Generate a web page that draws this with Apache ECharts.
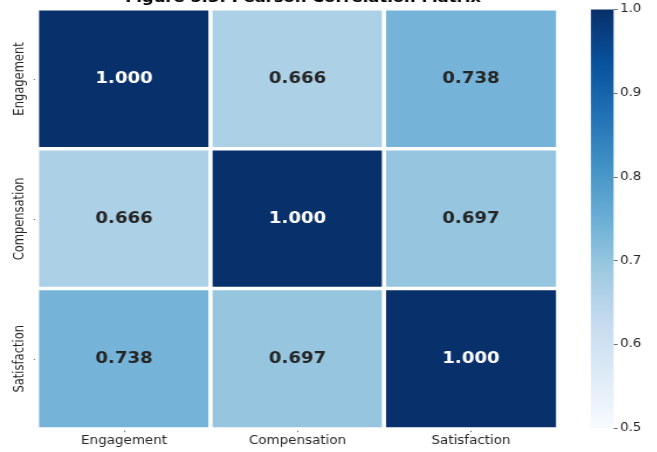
<!DOCTYPE html>
<html>
<head>
<meta charset="utf-8">
<script src="https://cdn.jsdelivr.net/npm/echarts@6/dist/echarts.min.js"></script>
<style>
  html, body { margin: 0; padding: 0; background: #fff; overflow: hidden; }
  #wrap { width: 657px; height: 452px; overflow: hidden; }
  /* the figure is drawn narrow and widened horizontally */
  #chart { width: 562px; height: 452px; transform: scaleX(1.17); transform-origin: 0 0; }
</style>
</head>
<body>
<div id="wrap"><div id="chart"></div></div>
<script>
const variables = ['Engagement', 'Compensation', 'Satisfaction'];
const corrEngagement   = [1.000, 0.666, 0.738];
const corrCompensation = [0.666, 1.000, 0.697];
const corrSatisfaction = [0.738, 0.697, 1.000];
const colorbarTicks = [0.5, 0.6, 0.7, 0.8, 0.9, 1.0];
const titleText = 'Figure 5.3: Pearson Correlation Matrix';

// matplotlib "Blues" colormap stops
const blues = ['#f7fbff', '#deebf7', '#c6dbef', '#9ecae1', '#6baed6',
               '#4292c6', '#2171b5', '#08519c', '#08306b'];
const textDark = '#262626';
const vMin = colorbarTicks[0];
const vMax = colorbarTicks[colorbarTicks.length - 1];

const rows = [corrEngagement, corrCompensation, corrSatisfaction];
const cells = [];
rows.forEach((row, r) => {
  row.forEach((v, c) => {
    cells.push({
      value: [c, r, v],
      label: { color: v >= 0.8 ? '#ffffff' : textDark }
    });
  });
});

// vertical gradient for the colour bar, bottom = vMin, top = vMax
const barGradient = new echarts.graphic.LinearGradient(0, 1, 0, 0,
  blues.map((c, i) => ({ offset: i / (blues.length - 1), color: c })));

const chart = echarts.init(document.getElementById('chart'), null, { renderer: 'canvas' });
chart.setOption({
  animation: false,
  backgroundColor: '#ffffff',
  title: {
    text: titleText,
    left: 254,
    textAlign: 'center',
    top: -14,
    textStyle: { fontFamily: 'DejaVu Sans', fontWeight: 'bold', fontSize: 14, color: '#000' }
  },
  grid: [
    { left: 31.9, right: 85.3, top: 9, bottom: 23.3 },
    { left: 505.1, width: 19.3, top: 9.5, height: 418.5 }
  ],
  xAxis: [
    {
      type: 'category', data: variables, gridIndex: 0,
      axisLine: { show: false },
      axisTick: { show: true, alignWithLabel: true, length: 3.5, lineStyle: { color: '#444', width: 0.8 } },
      axisLabel: { margin: 6, fontFamily: 'DejaVu Sans', fontSize: 11.5, color: textDark },
      splitLine: { show: false }
    },
    { type: 'category', data: ['scale'], gridIndex: 1, show: false }
  ],
  yAxis: [
    {
      type: 'category', data: variables, gridIndex: 0, inverse: true,
      axisLine: { show: false },
      axisTick: { show: true, alignWithLabel: true, length: 3, lineStyle: { color: '#444', width: 0.8 } },
      axisLabel: { rotate: 90, margin: 9, fontFamily: 'DejaVu Sans', fontSize: 11.5, color: textDark },
      splitLine: { show: false }
    },
    {
      type: 'value', gridIndex: 1, position: 'right',
      min: vMin, max: vMax, interval: 0.1,
      axisLine: { show: false },
      axisTick: { show: true, inside: false, length: 3.5, lineStyle: { color: '#444', width: 0.8 } },
      axisLabel: {
        margin: 5.5, fontFamily: 'DejaVu Sans', fontSize: 11.5, color: textDark,
        formatter: v => v.toFixed(1)
      },
      splitLine: { show: false }
    }
  ],
  visualMap: {
    type: 'continuous',
    show: false,
    seriesIndex: 0,
    min: vMin,
    max: vMax,
    inRange: { color: blues }
  },
  series: [
    {
      type: 'heatmap',
      xAxisIndex: 0,
      yAxisIndex: 0,
      data: cells,
      itemStyle: { borderColor: '#ffffff', borderWidth: 3.5 },
      label: {
        show: true,
        fontFamily: 'DejaVu Sans',
        fontWeight: 'bold',
        fontSize: 15.5,
        formatter: p => p.value[2].toFixed(3)
      },
      emphasis: { disabled: true }
    },
    {
      // colour bar spanning the full value range
      type: 'bar',
      xAxisIndex: 1,
      yAxisIndex: 1,
      data: [vMax],
      barWidth: '100%',
      silent: true,
      itemStyle: { color: barGradient },
      emphasis: { disabled: true }
    }
  ]
});
</script>
</body>
</html>
